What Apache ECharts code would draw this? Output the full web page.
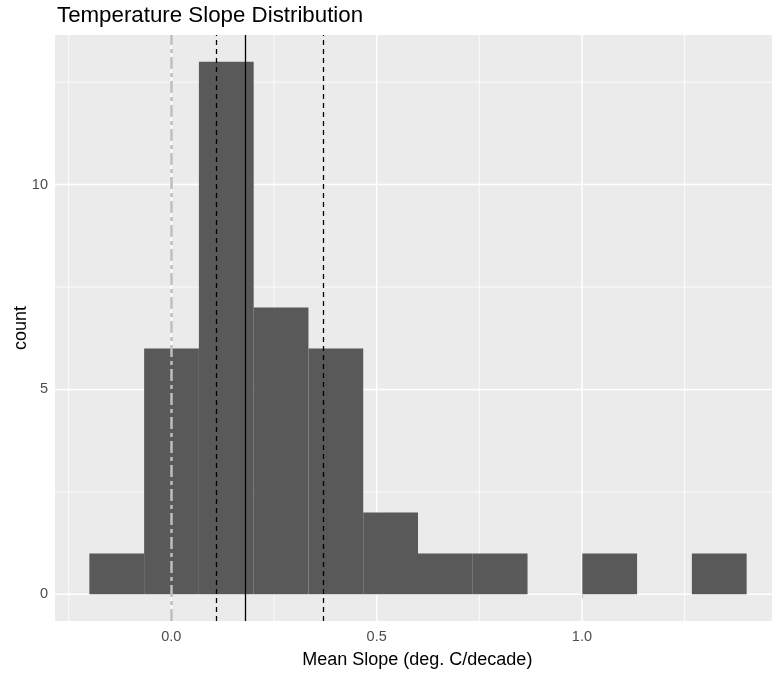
<!DOCTYPE html>
<html>
<head>
<meta charset="utf-8">
<script src="https://cdn.jsdelivr.net/npm/echarts@6/dist/echarts.min.js"></script>
<style>html,body{margin:0;padding:0;background:#fff}#c{width:772px;height:674px}</style>
</head>
<body>
<div id="c"></div>
<script>
// ---- data ----
const binLeft = [-0.1997, -0.0663, 0.0671, 0.2005, 0.3339, 0.4673, 0.6007, 0.7341, 0.8675, 1.0009, 1.1343, 1.2677];
const binWidth = 0.1334;
const counts = [1, 6, 13, 7, 6, 2, 1, 1, 0, 1, 0, 1];
const xTicks = [0, 0.5, 1.0];
const xMinor = [-0.25, 0.25, 0.75, 1.25];
const yTicks = [0, 5, 10];
const yMinor = [2.5, 7.5, 12.5];
const zeroLine = 0;
const meanSlope = 0.1844;
const ciLow = 0.113;
const ciHigh = 0.367;

const chart = echarts.init(document.getElementById('c'), null, {renderer: 'canvas'});
const FONT = 'Liberation Sans, Arial, sans-serif';

function vGrid(width) {
  return function (params, api) {
    const cs = params.coordSys;
    const p = api.coord([api.value(0), 0]);
    return {type: 'line', shape: {x1: p[0], y1: cs.y, x2: p[0], y2: cs.y + cs.height},
      style: {stroke: '#FFFFFF', lineWidth: width}, silent: true};
  };
}
function hGrid(width) {
  return function (params, api) {
    const cs = params.coordSys;
    const p = api.coord([0, api.value(0)]);
    return {type: 'line', shape: {x1: cs.x, y1: p[1], x2: cs.x + cs.width, y2: p[1]},
      style: {stroke: '#FFFFFF', lineWidth: width}, silent: true};
  };
}

const barData = binLeft.map((l, i) => [l, l + binWidth, counts[i]]);

chart.setOption({
  animation: false,
  textStyle: {fontFamily: FONT},
  title: {
    text: 'Temperature Slope Distribution',
    left: 57, top: 5, padding: 0,
    textStyle: {fontSize: 22.3, fontWeight: 'normal', color: '#000', fontFamily: FONT}
  },
  grid: {left: 55, top: 35, bottom: 53, right: -7.6, show: true, backgroundColor: '#EBEBEB', borderWidth: 0, containLabel: false, outerBoundsMode: 'none'},
  xAxis: {
    type: 'value', min: -0.2834, max: 1.4814,
    axisLine: {show: false},
    splitLine: {show: false},
    axisTick: {show: true, customValues: xTicks, length: 4, lineStyle: {color: '#333333', width: 1}},
    axisLabel: {customValues: xTicks, formatter: v => v.toFixed(1), color: '#4D4D4D', fontSize: 14.5, margin: 8.5, fontFamily: FONT},
    name: 'Mean Slope (deg. C/decade)', nameLocation: 'middle', nameGap: 30, nameMoveOverlap: false,
    nameTextStyle: {fontSize: 18, color: '#000', fontFamily: FONT}
  },
  yAxis: {
    type: 'value', min: -0.65, max: 13.65,
    axisLine: {show: false},
    splitLine: {show: false},
    axisTick: {show: true, customValues: yTicks, length: 4, lineStyle: {color: '#333333', width: 1}},
    axisLabel: {customValues: yTicks, color: '#4D4D4D', fontSize: 14.5, margin: 7, fontFamily: FONT},
    name: 'count', nameLocation: 'middle', nameGap: 25, nameMoveOverlap: false,
    nameTextStyle: {fontSize: 18, color: '#000', fontFamily: FONT}
  },
  series: [
    {type: 'custom', z: 1, silent: true, data: xMinor.map(v => [v]), renderItem: vGrid(0.8), encode: {x: 0}},
    {type: 'custom', z: 1, silent: true, data: xTicks.map(v => [v]), renderItem: vGrid(1.5), encode: {x: 0}},
    {type: 'custom', z: 1, silent: true, data: yMinor.map(v => [v]), renderItem: hGrid(0.8), encode: {y: 0}},
    {type: 'custom', z: 1, silent: true, data: yTicks.map(v => [v]), renderItem: hGrid(1.5), encode: {y: 0}},
    {
      type: 'custom', z: 2, silent: true, data: barData, encode: {x: [0, 1], y: 2},
      renderItem: function (params, api) {
        const a = api.coord([api.value(0), api.value(2)]);
        const b = api.coord([api.value(1), 0]);
        return {type: 'rect', shape: {x: a[0], y: a[1], width: b[0] - a[0], height: b[1] - a[1]},
          style: {fill: '#595959'}};
      }
    },
    {
      type: 'line', data: [], z: 3, silent: true,
      markLine: {
        silent: true, symbol: 'none', label: {show: false}, animation: false,
        data: [
          {xAxis: zeroLine, lineStyle: {color: '#BEBEBE', width: 2.5, type: [12, 4, 4, 4]}},
          {xAxis: ciLow, lineStyle: {color: '#000', width: 1.3, type: [5, 4]}},
          {xAxis: meanSlope, lineStyle: {color: '#000', width: 1.3, type: 'solid'}},
          {xAxis: ciHigh, lineStyle: {color: '#000', width: 1.3, type: [5, 4]}}
        ]
      }
    }
  ]
});
</script>
</body>
</html>
